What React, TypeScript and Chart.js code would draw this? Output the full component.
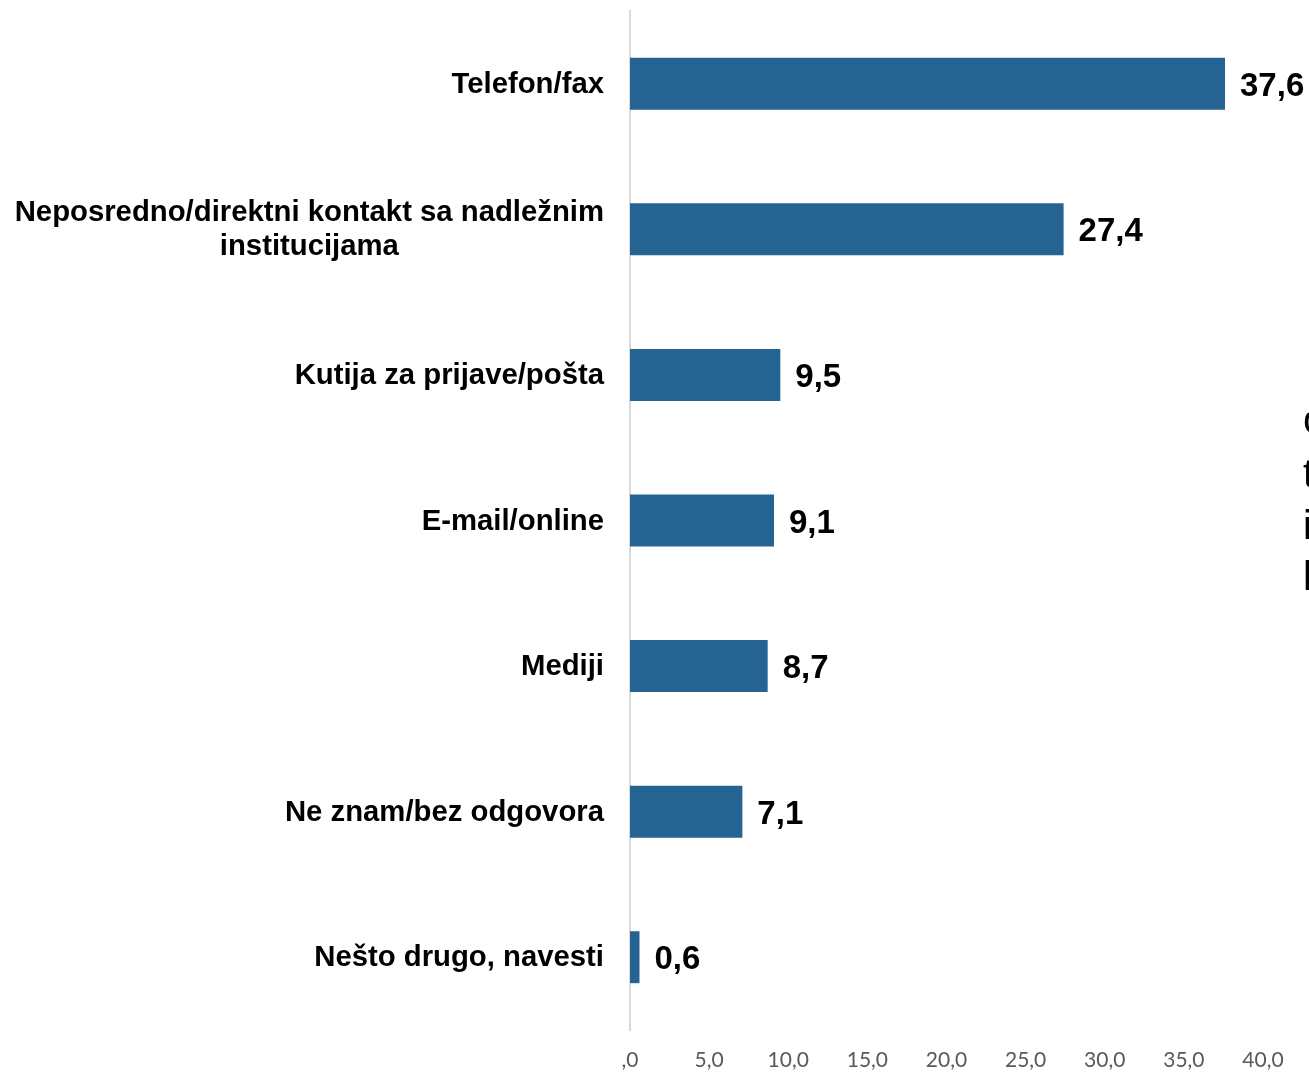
import React, { useEffect, useRef } from "react";
import { Chart, registerables } from "chart.js";

Chart.register(...registerables);

const categories: string[][] = [
  ["Telefon/fax"],
  ["Neposredno/direktni kontakt sa nadležnim", "institucijama"],
  ["Kutija za prijave/pošta"],
  ["E-mail/online"],
  ["Mediji"],
  ["Ne znam/bez odgovora"],
  ["Nešto drugo, navesti"],
];
const values: number[] = [37.6, 27.4, 9.5, 9.1, 8.7, 7.1, 0.6];
const axisMin = 0;
const axisMax = 40;
const axisStep = 5;
const sideLetters: string[] = ["o", "t", "i", "l"];

const BAR_COLOR = "#256393";
const LABEL_FONT = '"Liberation Sans", Arial, sans-serif';

function fmtTick(v: number): string {
  const s = v.toFixed(1).replace(".", ",");
  return s.startsWith("0,") ? s.slice(1) : s;
}
function fmtValue(v: number): string {
  return v.toFixed(1).replace(".", ",");
}

const labelsPlugin = {
  id: "customLabels",
  afterDraw(chart: any) {
    const ctx = chart.ctx as CanvasRenderingContext2D;
    const yScale = chart.scales.y;
    ctx.save();
    // category labels
    ctx.font = `bold 29.3px ${LABEL_FONT}`;
    ctx.fillStyle = "#000000";
    ctx.textAlign = "center";
    ctx.textBaseline = "middle";
    const lh = 34;
    categories.forEach((lines, i) => {
      const cy = yScale.getPixelForValue(i);
      const maxW = Math.max(...lines.map((l) => ctx.measureText(l).width));
      const right = yScale.right - 26;
      const cx = right - maxW / 2;
      lines.forEach((l, j) => {
        const y = cy + (j - (lines.length - 1) / 2) * lh + 1;
        ctx.fillText(l, cx, y);
      });
    });
    // value labels
    const meta = chart.getDatasetMeta(0);
    ctx.font = `bold 33px ${LABEL_FONT}`;
    ctx.textAlign = "left";
    meta.data.forEach((bar: any, i: number) => {
      ctx.fillText(fmtValue(values[i]), bar.x + 15, bar.y + 3);
    });
    // partially visible side text (cut off by the right edge)
    ctx.font = `40px ${LABEL_FONT}`;
    ctx.textBaseline = "alphabetic";
    const baselines = [433, 487, 539, 590];
    sideLetters.forEach((t, i) => {
      ctx.fillText(t, 1303, baselines[i]);
    });
    ctx.restore();
  },
};

export default function App() {
  const ref = useRef<HTMLCanvasElement | null>(null);
  useEffect(() => {
    if (!ref.current) return;
    const chart = new Chart(ref.current, {
      type: "bar",
      data: {
        labels: categories.map((c) => c.join(" ")),
        datasets: [
          {
            data: values,
            backgroundColor: BAR_COLOR,
            borderWidth: 0,
            categoryPercentage: 1,
            barPercentage: 0.357,
          },
        ],
      },
      options: {
        indexAxis: "y",
        animation: false,
        responsive: false,
        maintainAspectRatio: false,
        layout: { padding: { top: 11, right: 46, left: 0, bottom: 0 } },
        plugins: {
          legend: { display: false },
          tooltip: { enabled: false },
        },
        scales: {
          x: {
            min: axisMin,
            max: axisMax,
            ticks: {
              stepSize: axisStep,
              callback: (v: any) => fmtTick(Number(v)),
              color: "#595959",
              font: { family: "Lato, 'Open Sans', sans-serif", size: 21 },
              padding: 18,
              maxRotation: 0,
            },
            grid: { display: false, drawTicks: false },
            border: { display: false },
            afterFit: (s: any) => {
              s.height = 43;
            },
          },
          y: {
            ticks: { display: false },
            grid: { display: false, drawTicks: false },
            border: { display: true, color: "#D9D9D9", width: 2 },
            afterFit: (s: any) => {
              s.width = 630;
            },
          },
        },
      },
      plugins: [labelsPlugin],
    });
    return () => chart.destroy();
  }, []);
  return (
    <div style={{ position: "absolute", left: 0, top: 0, width: 1309, height: 1073, background: "#ffffff" }}>
      <canvas ref={ref} width={1309} height={1073} style={{ display: "block" }} />
    </div>
  );
}
